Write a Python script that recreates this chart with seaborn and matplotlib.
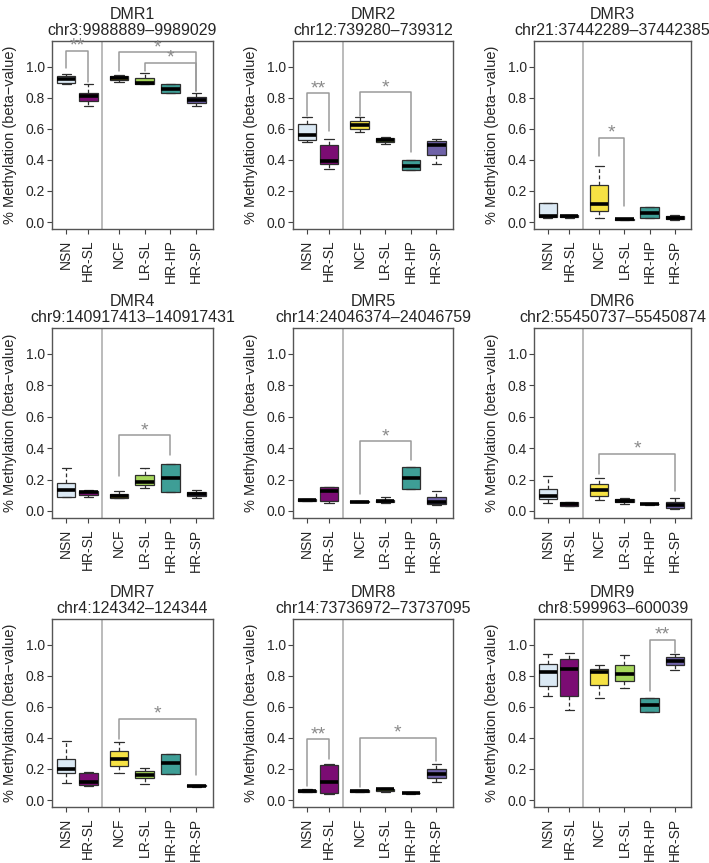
import pandas as pd
import seaborn as sns
import matplotlib.pyplot as plt

# groups and colours
groups = ['NSN', 'HR-SL', 'NCF', 'LR-SL', 'HR-HP', 'HR-SP']
colors = ['#dbe9f4', '#7b0c73', '#f6e244', '#a6d75b', '#3e9e96', '#6f62a8']

titles = ['DMR1', 'DMR2', 'DMR3', 'DMR4', 'DMR5', 'DMR6', 'DMR7', 'DMR8', 'DMR9']
loci = ['chr3:9988889–9989029', 'chr12:739280–739312', 'chr21:37442289–37442385',
        'chr9:140917413–140917431', 'chr14:24046374–24046759', 'chr2:55450737–55450874',
        'chr4:124342–124344', 'chr14:73736972–73737095', 'chr8:599963–600039']

# box summaries per group: [low whisker, Q1, median, Q3, high whisker]
dmr1 = [[0.887, 0.893, 0.919, 0.942, 0.953], [0.744, 0.780, 0.808, 0.833, 0.887],
        [0.900, 0.915, 0.929, 0.942, 0.943], [0.887, 0.888, 0.896, 0.926, 0.957],
        [0.829, 0.829, 0.857, 0.887, 0.887], [0.744, 0.765, 0.786, 0.804, 0.829]]
dmr2 = [[0.513, 0.530, 0.562, 0.631, 0.675], [0.338, 0.376, 0.395, 0.494, 0.537],
        [0.577, 0.598, 0.626, 0.652, 0.673], [0.504, 0.515, 0.528, 0.541, 0.547],
        [0.333, 0.333, 0.363, 0.397, 0.397], [0.376, 0.434, 0.494, 0.519, 0.537]]
dmr3 = [[0.028, 0.030, 0.039, 0.120, 0.120], [0.024, 0.030, 0.039, 0.043, 0.046],
        [0.028, 0.071, 0.114, 0.236, 0.360], [0.013, 0.015, 0.018, 0.021, 0.022],
        [0.024, 0.024, 0.060, 0.097, 0.097], [0.013, 0.020, 0.028, 0.037, 0.043]]
dmr4 = [[0.088, 0.088, 0.135, 0.177, 0.274], [0.088, 0.103, 0.118, 0.130, 0.132],
        [0.081, 0.081, 0.098, 0.109, 0.124], [0.145, 0.162, 0.182, 0.226, 0.274],
        [0.120, 0.120, 0.209, 0.299, 0.299], [0.081, 0.092, 0.107, 0.120, 0.135]]
dmr5 = [[0.065, 0.066, 0.069, 0.073, 0.075], [0.049, 0.064, 0.130, 0.150, 0.155],
        [0.055, 0.056, 0.060, 0.064, 0.066], [0.050, 0.056, 0.064, 0.072, 0.090],
        [0.139, 0.139, 0.209, 0.278, 0.278], [0.040, 0.045, 0.056, 0.088, 0.128]]
dmr6 = [[0.049, 0.077, 0.092, 0.139, 0.224], [0.032, 0.034, 0.043, 0.054, 0.056],
        [0.071, 0.098, 0.135, 0.171, 0.209], [0.043, 0.056, 0.066, 0.077, 0.085],
        [0.040, 0.041, 0.043, 0.047, 0.048], [0.013, 0.017, 0.038, 0.056, 0.081]]
dmr7 = [[0.109, 0.177, 0.199, 0.267, 0.380], [0.092, 0.098, 0.113, 0.177, 0.180],
        [0.177, 0.216, 0.267, 0.316, 0.374], [0.103, 0.139, 0.162, 0.188, 0.203],
        [0.167, 0.167, 0.235, 0.299, 0.299], [0.085, 0.087, 0.092, 0.096, 0.098]]
dmr8 = [[0.049, 0.052, 0.060, 0.066, 0.071], [0.038, 0.045, 0.118, 0.224, 0.231],
        [0.049, 0.053, 0.060, 0.064, 0.066], [0.049, 0.060, 0.071, 0.074, 0.077],
        [0.040, 0.042, 0.045, 0.048, 0.050], [0.113, 0.139, 0.167, 0.199, 0.231]]
dmr9 = [[0.667, 0.731, 0.825, 0.878, 0.939], [0.579, 0.667, 0.842, 0.906, 0.944],
        [0.656, 0.741, 0.825, 0.846, 0.869], [0.724, 0.763, 0.808, 0.869, 0.931],
        [0.564, 0.564, 0.613, 0.656, 0.656], [0.835, 0.867, 0.895, 0.921, 0.938]]

# significance brackets: (group a, group b, bar height, leg a end, leg b end, label)
sig1 = [('NSN', 'HR-SL', 1.103, 0.990, 0.904, '**'),
        ('NCF', 'HR-SP', 1.092, 0.972, 0.844, '*'),
        ('LR-SL', 'HR-SP', 1.026, 0.972, 0.844, '*')]
sig2 = [('NSN', 'HR-SL', 0.829, 0.684, 0.583, '**'),
        ('NCF', 'HR-HP', 0.836, 0.680, 0.449, '*')]
sig3 = [('NCF', 'LR-SL', 0.543, 0.425, 0.103, '*')]
sig4 = [('NCF', 'HR-HP', 0.483, 0.220, 0.359, '*')]
sig5 = [('NCF', 'HR-HP', 0.444, 0.109, 0.327, '*')]
sig6 = [('NCF', 'HR-SP', 0.363, 0.235, 0.124, '*')]
sig7 = [('NCF', 'HR-SP', 0.524, 0.391, 0.162, '*')]
sig8 = [('NSN', 'HR-SL', 0.391, 0.088, 0.267, '**'),
        ('NCF', 'HR-SP', 0.402, 0.085, 0.252, '*')]
sig9 = [('HR-HP', 'HR-SP', 1.032, 0.703, 0.949, '**')]

panels = [dmr1, dmr2, dmr3, dmr4, dmr5, dmr6, dmr7, dmr8, dmr9]
brackets = [sig1, sig2, sig3, sig4, sig5, sig6, sig7, sig8, sig9]


def plot_dmr_boxes():
    sns.set_theme(style='ticks')
    plt.rcParams['font.family'] = ['Liberation Sans', 'DejaVu Sans']

    # slightly narrower gap between the two tissue groups on the left
    pos = {g: (i * 0.86 if i < 2 else 2.05 + (i - 2)) for i, g in enumerate(groups)}
    pal = dict(zip(groups, colors))

    W, H = 709, 863
    cols = [(52, 161), (293, 160), (534, 157)]
    rows = [(41, 188), (328, 190), (619, 188)]

    fig = plt.figure(figsize=(W / 100, H / 100), dpi=100)

    for k in range(9):
        left, w = cols[k % 3]
        top, h = rows[k // 3]
        ax = fig.add_axes([left / W, 1 - (top + h) / H, w / W, h / H])

        recs = []
        for g, stats in zip(groups, panels[k]):
            for v in stats:
                recs.append({'group': g, 'pos': pos[g], 'value': v})
        df = pd.DataFrame(recs)

        sns.boxplot(data=df, x='pos', y='value', hue='group', hue_order=groups,
                    palette=pal, native_scale=True, width=0.84, whis=(0, 100),
                    showfliers=False, linecolor='#2e2e2e', linewidth=0.9,
                    whiskerprops={'linestyle': (0, (3, 2))},
                    medianprops={'color': 'black', 'linewidth': 2.6},
                    saturation=1, legend=False, ax=ax)

        ax.axvline(1.41, color='#a8a8a8', lw=1.1, zorder=0)

        for a, b, ytop, ya, yb, lab in brackets[k]:
            xa, xb = pos[a], pos[b]
            ax.plot([xa, xa, xb, xb], [ya, ytop, ytop, yb], color='#9a9a9a', lw=1.1)
            ax.annotate(lab, xy=((xa + xb) / 2, ytop), xytext=(0, 0),
                        textcoords='offset points', ha='center', va='baseline',
                        fontsize=14, color='#8a8a8a')

        ax.set_xlim(-0.55, 5.7)
        ax.set_ylim(-0.045, 1.165)
        ax.set_xticks([pos[g] for g in groups])
        ax.set_xticklabels(groups, rotation=90, fontsize=10)
        yt = [0.0, 0.2, 0.4, 0.6, 0.8, 1.0]
        ax.set_yticks(yt)
        ax.set_yticklabels([f'{v:.1f}' for v in yt], fontsize=10)
        ax.tick_params(axis='both', length=3.5, width=0.8, color='#444444')
        ax.tick_params(axis='x', pad=4)
        ax.tick_params(axis='y', pad=1.5)
        for s in ax.spines.values():
            s.set_visible(True)
            s.set_color('#555555')
            s.set_linewidth(1.0)
        ax.set_xlabel('')
        ax.set_ylabel('% Methylation (beta−value)', fontsize=10.5, labelpad=6)
        ax.set_title(titles[k] + '\n' + loci[k], fontsize=11.5, pad=4, linespacing=1.15)

    plt.savefig('out.png', dpi=100)


if __name__ == '__main__':
    plot_dmr_boxes()
